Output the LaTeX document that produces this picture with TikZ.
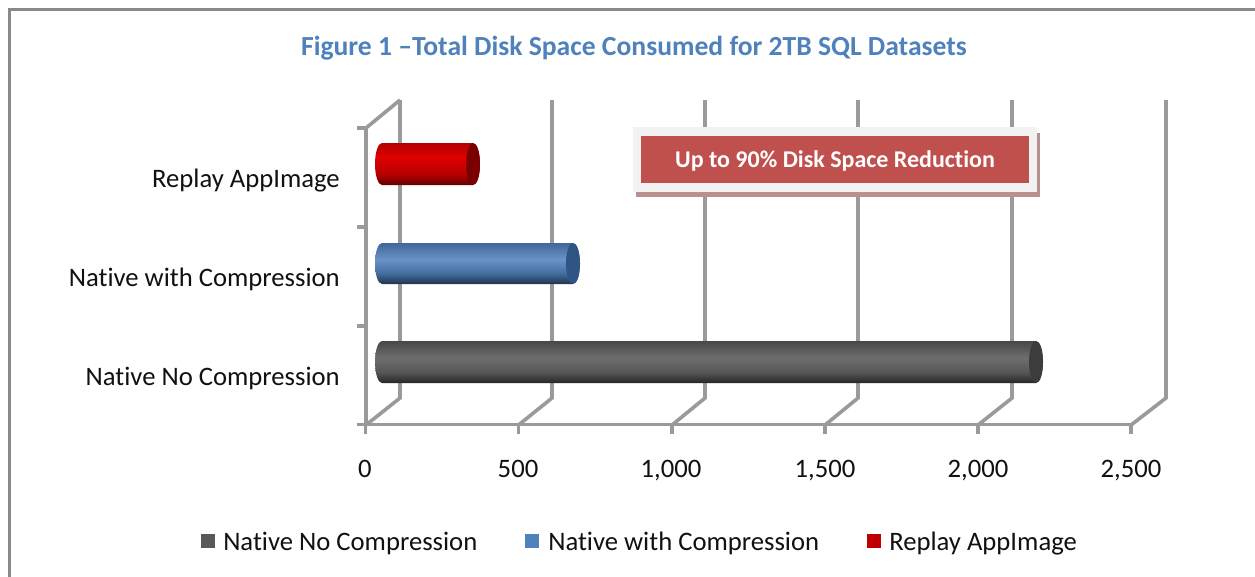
\documentclass[tikz,border=0pt]{standalone}
\usepackage{fontspec}
\setmainfont{Carlito}[RawFeature={-liga;-clig}]
\usetikzlibrary{calc}
\definecolor{framec}{HTML}{8A8A8A}
\definecolor{gridc}{HTML}{9A9A9A}
\definecolor{titlec}{HTML}{4F81BD}
\definecolor{boxred}{HTML}{C0504D}
\definecolor{boxedge}{HTML}{F2F2F2}
\definecolor{boxshadow}{HTML}{B89090}
\definecolor{legdark}{HTML}{595959}
\definecolor{legblue}{HTML}{4F81BD}
\definecolor{legred}{HTML}{C00000}
\definecolor{labelc}{HTML}{111111}
\definecolor{redend}{HTML}{7A0000}
\definecolor{blueend}{HTML}{2F5585}
\definecolor{darkend}{HTML}{3C3C3C}
\pgfdeclareverticalshading{redcyl}{100bp}{color(0bp)=(black!100!red!0);
  color(25bp)=(red!38!black); color(38bp)=(red!72!black); color(58bp)=(red!88!black); color(75bp)=(red!70!black); color(100bp)=(red!70!black)}
\pgfdeclareverticalshading{bluecyl}{100bp}{color(0bp)=(black);
  color(25bp)=(legblue!40!black); color(38bp)=(legblue!85!black); color(55bp)=(legblue!85!white); color(75bp)=(legblue!80!black); color(100bp)=(legblue!80!black)}
\pgfdeclareverticalshading{darkcyl}{100bp}{color(0bp)=(black);
  color(25bp)=(black!85); color(38bp)=(black!66); color(55bp)=(black!57); color(75bp)=(black!72); color(100bp)=(black!72)}
\tikzset{
  x=0.75pt,y=-0.75pt,
  gridline/.style={draw=gridc,line width=2.7pt},
  axisline/.style={draw=gridc,line width=2.7pt},
  ticklabel/.style={font=\fontsize{20}{22}\selectfont,text=labelc,anchor=base,inner sep=0pt},
  catlabel/.style={font=\fontsize{20}{22}\selectfont,text=labelc,anchor=base east,inner sep=0pt},
  leglabel/.style={font=\fontsize{20}{22}\selectfont,text=labelc,anchor=base west,inner sep=0pt},
  legbox/.style={minimum size=11pt,inner sep=0pt,draw=none,anchor=center},
}
% #1 left x, #2 right x, #3 top y, #4 bottom y, #5 shading, #6 end face
\newcommand{\cylbar}[6]{%
  \pgfmathsetmacro{\cymid}{(#3+#4)/2}
  \pgfmathsetmacro{\cyk}{(#4-#3)/2*0.5523}
  \shade[shading=#5]
    (#1+7,#3) -- (#2-7,#3)
    .. controls (#2-3.1,#3) and (#2,\cymid-\cyk) .. (#2,\cymid)
    .. controls (#2,\cymid+\cyk) and (#2-3.1,#4) .. (#2-7,#4)
    -- (#1+7,#4)
    .. controls (#1+3.1,#4) and (#1,\cymid+\cyk) .. (#1,\cymid)
    .. controls (#1,\cymid-\cyk) and (#1+3.1,#3) .. (#1+7,#3) -- cycle;
  \fill[#6]
    (#2-7,#3)
    .. controls (#2-3.1,#3) and (#2,\cymid-\cyk) .. (#2,\cymid)
    .. controls (#2,\cymid+\cyk) and (#2-3.1,#4) .. (#2-7,#4)
    .. controls (#2-10.9,#4) and (#2-14,\cymid+\cyk) .. (#2-14,\cymid)
    .. controls (#2-14,\cymid-\cyk) and (#2-10.9,#3) .. (#2-7,#3) -- cycle;
}
\begin{document}
\begin{tikzpicture}
\useasboundingbox (0,0) rectangle (1255,576);
\fill[white] (0,0) rectangle (1255,576);
% frame
\draw[framec,line width=2.25pt] (9.5,580) -- (9.5,9.5) -- (1258,9.5);
% title
\node[font=\fontsize{20.7}{24}\selectfont\bfseries,text=titlec,inner sep=0pt,anchor=base] (title) at (634,55) {Figure 1 –Total Disk Space Consumed for 2TB SQL Datasets};
% back walls
\foreach \gx/\fx in {400/366,552/518.5,705/672,858/825,1012/978,1166/1131}{
  \draw[gridline,line join=miter] (\fx,425) -- (\gx,398) -- (\gx,100);
}
\draw[gridline] (366,128) -- (400,100);
% axes
\draw[axisline] (366,128) -- (366,425);
\draw[axisline] (357,424.5) -- (1132,424.5);
\foreach \ty in {128,227,326}{\draw[axisline] (357,\ty) -- (366,\ty);}
\foreach \tx in {365.5,518.5,672,825,978,1131}{\draw[axisline] (\tx,424.5) -- (\tx,434);}
% bars
\cylbar{375}{480}{143}{185}{redcyl}{redend}
\cylbar{375}{580}{243}{284}{bluecyl}{blueend}
\cylbar{375}{1043}{341}{383}{darkcyl}{darkend}
% callout
\fill[boxshadow] (636,133) rectangle (1040,197);
\fill[boxedge] (633,127) rectangle (1037,192);
\node[fill=boxred,minimum width=291pt,minimum height=35.25pt,inner sep=0pt] (calloutbox) at (835,159.5) {};
\node[text=white,font=\fontsize{18}{22}\selectfont\bfseries,inner sep=0pt] (callout) at (835,161) {Up to 90\% Disk Space Reduction};
% category labels
\node[catlabel] (c3) at (340,187.5) {Replay AppImage};
\node[catlabel] (c2) at (340,286) {Native with Compression};
\node[catlabel] (c1) at (340,385) {Native No Compression};
% tick labels
\foreach \lx/\lt/\nm in {365/0/a,518/500/b,671/{1,000}/c,825/{1,500}/d,978/{2,000}/e,1131/{2,500}/f}{
  \node[ticklabel] (t\nm) at (\lx,477) {\lt};
}
% legend
\node[legbox,fill=legdark] (l1) at (208,541) {};
\node[leglabel] (lt1) at (223,550) {Native No Compression};
\node[legbox,fill=legblue] (l2) at (532,541) {};
\node[leglabel] (lt2) at (548,550) {Native with Compression};
\node[legbox,fill=legred] (l3) at (874,541) {};
\node[leglabel] (lt3) at (889,550) {Replay AppImage};
\end{tikzpicture}
\end{document}
